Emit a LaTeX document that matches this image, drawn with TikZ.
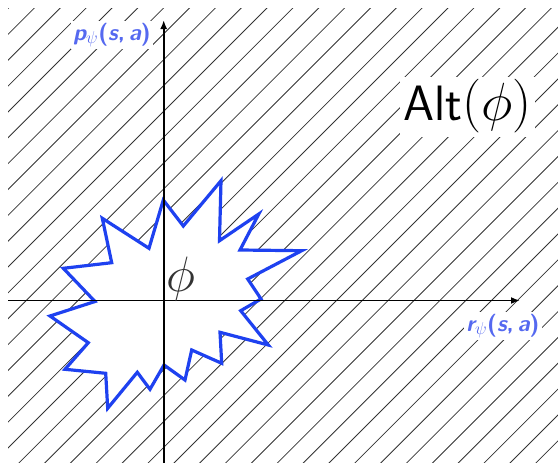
\documentclass[tikz,border=0pt]{standalone}
\usetikzlibrary{arrows.meta}
\definecolor{starblue}{RGB}{30,65,240}
\definecolor{labblue}{RGB}{85,105,240}
\begin{document}
\begin{tikzpicture}[x=1pt,y=-1pt,
 hatch/.style={black!80,line width=0.8pt},
 axis/.style={line width=1.9pt,-{Latex[length=9pt,width=7pt]}},
 starline/.style={draw=starblue,line width=3.2pt,fill=white,line join=miter},
 axlabel/.style={text=labblue,fill=white,inner sep=2pt,font=\fontsize{23}{27}\selectfont\sffamily\bfseries},
 big/.style={font=\fontsize{23}{27}\selectfont\sffamily,scale=2}]
\useasboundingbox (0,0) rectangle (558,463);
\begin{scope}
\clip (8,8) rectangle (558,463);
\foreach \k in {-18,...,23}{
  \draw[hatch] ({456+25.85*\k-470},470) -- ({456+25.85*\k},0);
}
\end{scope}
\draw[starline] (163.3,200) -- (183.3,226) -- (221,180.7) -- (219.5,240.7) -- (258.8,214) -- (240,250) -- (301.7,250.7) -- (247.7,279) -- (261,299) -- (240.7,310.7) -- (268.3,345) -- (220,332.3) -- (221.7,363.3) -- (191.7,350) -- (185,380) -- (164,365) -- (150,389.3) -- (137.3,372.3) -- (107.7,408.3) -- (105.7,373.3) -- (65,369.3) -- (88.3,342.7) -- (50,316) -- (95,301.5) -- (63.3,268.3) -- (111.7,262.7) -- (102.3,218.3) -- (149,248.3) -- cycle;
\coordinate (xs) at (8,300.5);
\coordinate (xe) at (520,300.5);
\coordinate (ys) at (163.7,463);
\coordinate (ye) at (163.7,20);
\draw[axis] (xs) -- (xe);
\draw[axis] (ys) -- (ye);
\node[axlabel] (pl) at (112,35) {\itshape p$_\psi$\upshape(\itshape s\upshape,\,\itshape a\upshape)};
\node[axlabel] (rl) at (503,326) {\itshape r$_\psi$\upshape(\itshape s\upshape,\,\itshape a\upshape)};
\node[big, anchor=base, text=black!80, inner sep=0pt] (phi) at (181,291.5) {$\phi$};
\node[big, scale=1.08, anchor=base west, fill=white, inner sep=1.5pt] (alt) at (400,120) {Alt$\bigl(\phi\bigr)$};
\end{tikzpicture}
\end{document}
